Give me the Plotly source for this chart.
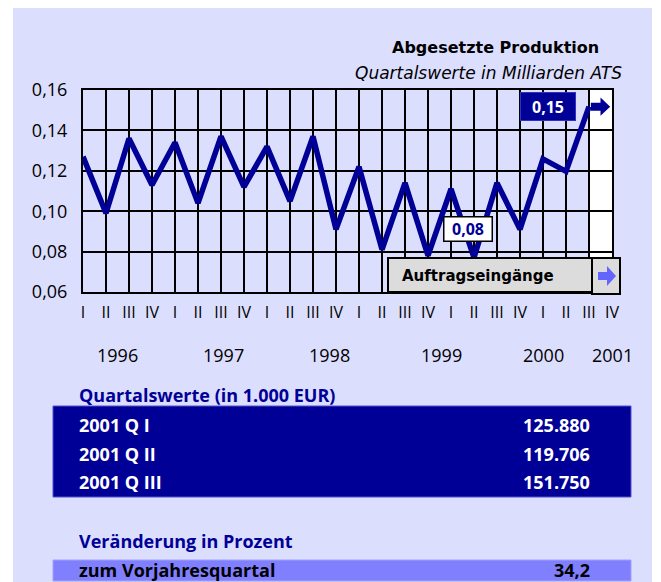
import plotly.graph_objects as go

# ---------------- data ----------------
quarter_labels = ["I", "II", "III", "IV"] * 6
year_labels = ["1996", "1997", "1998", "1999", "2000", "2001"]
year_label_pos = [1.5, 6.1, 10.7, 15.6, 20.0, 23.0]
values = [0.127, 0.099, 0.136, 0.113,
          0.134, 0.104, 0.137, 0.112,
          0.132, 0.105, 0.137, 0.091,
          0.122, 0.081, 0.114, 0.078,
          0.111, 0.077, 0.114, 0.091,
          0.12588, 0.119706, 0.15175, None]
table_title = "Quartalswerte (in 1.000 EUR)"
table_rows = ["2001 Q I", "2001 Q II", "2001 Q III"]
table_vals = ["125.880", "119.706", "151.750"]
change_title = "Veränderung in Prozent"
change_label = "zum Vorjahresquartal"
change_value = "34,2"

# ---------------- styling ----------------
NAVY = "#000096"
PANEL = "#DCDEFE"
LIGHT = "#8080FF"
FONT = "Open Sans, Liberation Sans, sans-serif"
WIDE = "DejaVu Sans, Verdana, sans-serif"
TAB = "Open Sans, Liberation Sans, sans-serif"

OFF = 8  # default page body margin
W_FIG, H_FIG = 661 - OFF, 582 - OFF
L, R, T, B = 83, 612, 90, 292  # plot area in reference pixels
PW, PH = R - L, B - T


def px(x):
    return (x - L) / PW


def py(y):
    return (B - y) / PH


def fmt(v):
    return f"{v:.2f}".replace(".", ",")


x_idx = list(range(len(values)))
valid = [(i, v) for i, v in zip(x_idx, values) if v is not None]
last_i, last_v = valid[-1]
min_i, min_v = min(valid, key=lambda t: t[1])

fig = go.Figure()
fig.add_trace(go.Scatter(x=x_idx, y=values, mode="lines",
                         line=dict(color=NAVY, width=5.5),
                         connectgaps=False, hoverinfo="skip", showlegend=False))

shapes = []
shapes.append(dict(type="rect", xref="paper", yref="paper", layer="below",
                   x0=px(13), x1=px(652), y0=py(600), y1=py(5),
                   fillcolor=PANEL, line=dict(width=0)))
shapes.append(dict(type="rect", xref="x", yref="y", layer="below",
                   x0=last_i, x1=last_i + 1, y0=0.06, y1=0.16,
                   fillcolor="white", line=dict(width=0)))
ax0, ax1, ax2 = last_i + 0.08, last_i + 0.5, last_i + 0.92
yc = last_v
bh, hh = 0.002, 0.0045
shapes.append(dict(type="path", xref="x", yref="y", layer="above",
                   path=f"M{ax0},{yc - bh} L{ax1},{yc - bh} L{ax1},{yc - hh} L{ax2},{yc} "
                        f"L{ax1},{yc + hh} L{ax1},{yc + bh} L{ax0},{yc + bh} Z",
                   fillcolor=NAVY, line=dict(width=0)))
shapes.append(dict(type="rect", xref="paper", yref="paper", layer="above",
                   x0=px(388), x1=px(592), y0=py(292), y1=py(258),
                   fillcolor="#DCDCDC", line=dict(color="black", width=2)))
shapes.append(dict(type="rect", xref="paper", yref="paper", layer="above",
                   x0=px(592), x1=px(620), y0=py(294), y1=py(258),
                   fillcolor="#DCDCDC", line=dict(color="black", width=2)))
a0, a1, a2 = px(598), px(607), px(616)
ac, abh, ahh = py(276), 4 / PH, 10 / PH
shapes.append(dict(type="path", xref="paper", yref="paper", layer="above",
                   path=f"M{a0},{ac - abh} L{a1},{ac - abh} L{a1},{ac - ahh} L{a2},{ac} "
                        f"L{a1},{ac + ahh} L{a1},{ac + abh} L{a0},{ac + abh} Z",
                   fillcolor="#6464FF", line=dict(width=0)))
shapes.append(dict(type="rect", xref="paper", yref="paper", layer="above",
                   x0=px(53), x1=px(631), y0=py(497), y1=py(406),
                   fillcolor=NAVY, line=dict(color="#5050D0", width=1)))
shapes.append(dict(type="rect", xref="paper", yref="paper", layer="above",
                   x0=px(53), x1=px(631), y0=py(581), y1=py(560),
                   fillcolor=LIGHT, line=dict(color="#A0A0FF", width=1)))

ann = []
ann.append(dict(xref="paper", yref="paper", x=px(601), y=py(47), xanchor="right", yanchor="middle",
                text="<b>Abgesetzte Produktion</b>", showarrow=False,
                font=dict(family=WIDE, size=16, color="black")))
ann.append(dict(xref="paper", yref="paper", x=px(624), y=py(73), xanchor="right", yanchor="middle",
                text="<i>Quartalswerte in Milliarden ATS</i>", showarrow=False,
                font=dict(family=WIDE, size=17, color="black")))
for lab, pos in zip(year_labels, year_label_pos):
    ann.append(dict(xref="x", yref="paper", x=pos, y=py(355), xanchor="center", yanchor="middle",
                    text=lab, showarrow=False, font=dict(family=FONT, size=18, color="black")))
ann.append(dict(xref="x", yref="y", x=last_i, y=last_v, xshift=-41, yshift=0,
                xanchor="center", yanchor="middle", text=f"<b>{fmt(last_v)}</b>", showarrow=False,
                width=52, height=25, bgcolor=NAVY, bordercolor="#3030C0", borderwidth=1,
                font=dict(family=FONT, size=16, color="white")))
ann.append(dict(xref="x", yref="y", x=min_i, y=min_v, xshift=-6, yshift=29,
                xanchor="center", yanchor="middle", text=f"<b>{fmt(min_v)}</b>", showarrow=False,
                width=45, height=21, bgcolor="white", bordercolor="black", borderwidth=1.5,
                font=dict(family=FONT, size=16, color=NAVY)))
ann.append(dict(xref="paper", yref="paper", x=px(400), y=py(276), xanchor="left", yanchor="middle",
                text="<b>Auftragseingänge</b>", showarrow=False,
                font=dict(family=WIDE, size=15, color="black")))
ann.append(dict(xref="paper", yref="paper", x=px(77), y=py(395), xanchor="left", yanchor="middle",
                text=f"<b>{table_title}</b>", showarrow=False,
                font=dict(family=TAB, size=18, color=NAVY)))
for k, (lab, val) in enumerate(zip(table_rows, table_vals)):
    yy = py(425 + k * 28.5)
    ann.append(dict(xref="paper", yref="paper", x=px(77), y=yy, xanchor="left", yanchor="middle",
                    text=f"<b>{lab}</b>", showarrow=False, font=dict(family=TAB, size=18, color="white")))
    ann.append(dict(xref="paper", yref="paper", x=px(592), y=yy, xanchor="right", yanchor="middle",
                    text=f"<b>{val}</b>", showarrow=False, font=dict(family=TAB, size=18, color="white")))
ann.append(dict(xref="paper", yref="paper", x=px(77), y=py(541), xanchor="left", yanchor="middle",
                text=f"<b>{change_title}</b>", showarrow=False,
                font=dict(family=TAB, size=18, color=NAVY)))
ann.append(dict(xref="paper", yref="paper", x=px(77), y=py(570), xanchor="left", yanchor="middle",
                text=f"<b>{change_label}</b>", showarrow=False, font=dict(family=TAB, size=18, color="black")))
ann.append(dict(xref="paper", yref="paper", x=px(592), y=py(570), xanchor="right", yanchor="middle",
                text=f"<b>{change_value}</b>", showarrow=False, font=dict(family=TAB, size=18, color="black")))

fig.update_layout(
    width=W_FIG, height=H_FIG,
    margin=dict(l=L - OFF, r=W_FIG - (R - OFF), t=T - OFF, b=H_FIG - (B - OFF), pad=0),
    paper_bgcolor="white", plot_bgcolor="rgba(0,0,0,0)",
    separators=",.",
    showlegend=False,
    shapes=shapes, annotations=ann,
    xaxis=dict(range=[0, len(values) - 1], tickmode="array", tickvals=x_idx, ticktext=quarter_labels,
               showgrid=True, gridcolor="black", gridwidth=2, zeroline=False,
               showline=True, linecolor="black", linewidth=2, mirror=True,
               ticks="", ticklabelstandoff=5, tickangle=0,
               tickfont=dict(family=FONT, size=16, color="black"), fixedrange=True),
    yaxis=dict(range=[0.06, 0.16], tickmode="array", tickvals=[0.06, 0.08, 0.10, 0.12, 0.14, 0.16],
               tickformat=".2f",
               showgrid=True, gridcolor="black", gridwidth=2, zeroline=False,
               showline=True, linecolor="black", linewidth=2, mirror=True,
               ticks="", ticklabelstandoff=10,
               tickfont=dict(family=FONT, size=18, color="black"), fixedrange=True),
)

fig.write_html("out.html")
